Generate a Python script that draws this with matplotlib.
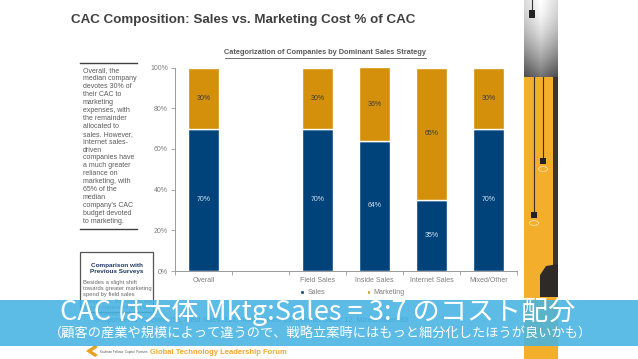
import matplotlib
matplotlib.use("Agg")
import matplotlib.pyplot as plt
import numpy as np
from matplotlib.patches import Rectangle, Circle, Polygon
from matplotlib.lines import Line2D

# ---------------- data ----------------
categories = ["Overall", "", "Field Sales", "Inside Sales", "Internet Sales", "Mixed/Other"]
sales = [70, 0, 70, 64, 35, 70]
marketing = [30, 0, 30, 36, 65, 30]
y_ticks = [0, 20, 40, 60, 80, 100]
y_tick_labels = ["0%", "20%", "40%", "60%", "80%", "100%"]
series_names = ["Sales", "Marketing"]

title = "CAC Composition: Sales vs. Marketing Cost % of CAC"
subtitle = "Categorization of Companies by Dominant Sales Strategy"
side_text = ("Overall, the\nmedian company\ndevotes 30% of\ntheir CAC to\nmarketing\nexpenses, with\n"
             "the remainder\nallocated to\nsales. However,\nInternet sales-\ndriven\ncompanies have\n"
             "a much greater\nreliance on\nmarketing, with\n65% of the\nmedian\ncompany's CAC\n"
             "budget devoted\nto marketing.")
box_title = "Comparison with\nPrevious Surveys"
box_text = ("Besides a slight shift\ntowards greater marketing\nspend by field sales\n"
            "companies, the results are\nlargely consistent with last\nyear's survey.")
respondents = "Respondents: Overall: 258, Field Sales: 100, Inside Sales: 63, Internet Sales: 12, Mixed/Other: 83"
banner1 = "CAC は大体 Mktg:Sales = 3:7 のコスト配分"
banner2 = "（顧客の産業や規模によって違うので、戦略立案時にはもっと細分化したほうが良いかも）"
logo_text = "Global Technology Leadership Forum"

NAVY = "#00427A"
GOLD = "#D4900A"
GRAY = "#7F7F7F"

W, H = 638, 359
fig = plt.figure(figsize=(W / 100, H / 100), dpi=100)
fig.patch.set_facecolor("white")

def fx(x):
    return x / W

def fy(y):
    return 1 - y / H

# ---------------- main chart ----------------
ax = fig.add_axes([fx(175), fy(271), fx(517) - fx(175), fy(67.5) - fy(271)])
x = np.arange(len(categories))
bw = 0.53
ax.bar(x, sales, bw, color=NAVY, edgecolor="white", linewidth=1.0, label=series_names[0], zorder=2)
ax.bar(x, marketing, bw, bottom=sales, color=GOLD, edgecolor="white", linewidth=1.0,
       label=series_names[1], zorder=2)
for xi, s, m in zip(x, sales, marketing):
    if s > 0:
        ax.text(xi, s / 2, f"{s}%", ha="center", va="center", fontsize=5,
                color="#D5E3F2", family="Liberation Sans")
    if m > 0:
        ax.text(xi, s + m / 2, f"{m}%", ha="center", va="center", fontsize=5,
                color="#3A3A3A", family="Liberation Sans")

ax.set_xlim(-0.5, len(categories) - 0.5)
ax.set_ylim(0, 100)
ax.set_yticks(y_ticks)
ax.set_yticklabels(y_tick_labels, fontsize=5, color=GRAY, family="Liberation Sans")
ax.set_xticks(x)
ax.set_xticklabels(categories, fontsize=5, color=GRAY, family="Liberation Sans")
ax.set_xticks(np.arange(-0.5, len(categories)), minor=True)
ax.tick_params(axis="x", which="major", length=0, pad=4)
ax.tick_params(axis="x", which="minor", length=3, color="#999999", width=0.6)
ax.tick_params(axis="y", length=3, color="#999999", width=0.6, pad=2)
for sp in ["top", "right"]:
    ax.spines[sp].set_visible(False)
for sp in ["left", "bottom"]:
    ax.spines[sp].set_color("#999999")
    ax.spines[sp].set_linewidth(0.7)

leg = ax.legend(loc="center left", bbox_to_anchor=(fx(294), fy(293)), bbox_transform=fig.transFigure,
                ncol=2, frameon=False, handlelength=0.5, handleheight=0.5,
                handletextpad=0.5, columnspacing=6.0, prop={"family": "Liberation Sans", "size": 5})
for t in leg.get_texts():
    t.set_color(GRAY)

# ---------------- titles ----------------
fig.text(fx(243), fy(20), title, ha="center", va="center", fontsize=9.6, fontweight="bold",
         color="#404040", family="Liberation Sans")
fig.text(fx(426), fy(53), subtitle, ha="right", va="center", fontsize=5.3, fontweight="bold",
         color="#595959", family="Liberation Sans")
fig.add_artist(Line2D([fx(225), fx(426)], [fy(57.5), fy(57.5)], color="#595959", lw=0.6))

# ---------------- left notes ----------------
fig.add_artist(Line2D([fx(80), fx(137)], [fy(63), fy(63)], color="#404040", lw=1.0))
fig.add_artist(Line2D([fx(80), fx(137)], [fy(229), fy(229)], color="#404040", lw=1.0))
fig.text(fx(83), fy(67), side_text, ha="left", va="top", fontsize=5.0, linespacing=1.19,
         color="#5A5A5A", family="Liberation Sans")

fig.add_artist(Rectangle((fx(80), fy(312)), fx(153) - fx(80), fy(252) - fy(312),
                         transform=fig.transFigure, facecolor="white", edgecolor="#555555", lw=0.9))
fig.text(fx(117), fy(268.5), box_title, ha="center", va="center", fontsize=4.6, fontweight="bold",
         color="#1F3864", linespacing=1.1, family="Liberation Sans")
fig.text(fx(83), fy(280), box_text, ha="left", va="top", fontsize=4.2, linespacing=1.3,
         color="#6A6A6A", family="Liberation Sans")

fig.text(fx(95), fy(321), respondents, ha="left", va="center", fontsize=5.2,
         color="#4A6F95", family="Liberation Sans")

# ---------------- right decorative strip ----------------
grad_ax = fig.add_axes([fx(524), fy(77), fx(558) - fx(524), fy(0) - fy(77)])
g = np.linspace(0, 1, 80)
xx = np.linspace(-1, 1, 40)
img = np.clip(1.0 - 0.55 * (g[:, None] ** 1.6) - 0.15 * np.abs(xx[None, :]), 0, 1)
grad_ax.imshow(img, cmap="gray", vmin=0, vmax=1, aspect="auto", extent=[0, 1, 1, 0])
grad_ax.axis("off")

fig.add_artist(Rectangle((fx(524), fy(359)), fx(558) - fx(524), fy(77) - fy(359),
                         transform=fig.transFigure, facecolor="#F3AE2C", edgecolor="none", zorder=1))
fig.add_artist(Rectangle((fx(553), fy(265)), fx(558) - fx(553), fy(77) - fy(265),
                         transform=fig.transFigure, facecolor="#3C3530", edgecolor="none", zorder=1.1))
fig.add_artist(Polygon([(fx(540), fy(297)), (fx(540), fy(275)), (fx(546), fy(266)),
                        (fx(558), fy(264)), (fx(558), fy(297))],
                       closed=True, transform=fig.transFigure, facecolor="#2E2A27",
                       edgecolor="none", zorder=1.1))
for cx, top, bot in [(534, 77, 212), (543, 77, 158)]:
    fig.add_artist(Line2D([fx(cx), fx(cx)], [fy(top), fy(bot)], color="#3A2F24", lw=0.8, zorder=1.2))
    fig.add_artist(Rectangle((fx(cx - 3), fy(bot + 6)), fx(6), fy(0) - fy(6),
                             transform=fig.transFigure, facecolor="#222222", edgecolor="none", zorder=1.2))
    fig.add_artist(Circle((fx(cx), fy(bot + 11)), 0.007, transform=fig.transFigure,
                          facecolor="none", edgecolor="#FBE3A8", lw=0.6, zorder=1.2))
fig.add_artist(Line2D([fx(532), fx(532)], [fy(0), fy(10)], color="#333333", lw=0.8, zorder=3))
fig.add_artist(Rectangle((fx(529), fy(18)), fx(6), fy(0) - fy(8),
                         transform=fig.transFigure, facecolor="#222222", edgecolor="none", zorder=3))

# ---------------- banner ----------------
fig.add_artist(Rectangle((0, fy(346)), 1, fy(300) - fy(346), transform=fig.transFigure,
                         facecolor="#45B3E2", edgecolor="none", alpha=0.88, zorder=5))
fig.text(fx(318), fy(312), banner1, ha="center", va="center", fontsize=19.5, color="white",
         family=["Noto Sans CJK JP", "DejaVu Sans"], zorder=6)
fig.text(fx(320), fy(334.5), banner2, ha="center", va="center", fontsize=9.5, color="white",
         family=["Noto Sans CJK JP", "DejaVu Sans"], zorder=6)

# ---------------- footer logo ----------------
fig.add_artist(Polygon([(fx(95), fy(345)), (fx(86), fy(351)), (fx(95), fy(357)), (fx(98), fy(355)),
                        (fx(92), fy(351)), (fx(98), fy(347))], closed=True, transform=fig.transFigure,
                       facecolor="#E8A020", edgecolor="none", zorder=4))
fig.text(fx(100), fy(352), "Kaufman Fellows  Capital  Partners", ha="left", va="center", fontsize=2.2,
         color="#555555", family="Liberation Sans", zorder=4)
fig.text(fx(150), fy(352), logo_text, ha="left", va="center", fontsize=5.5, fontweight="bold",
         color="#F0A830", family="Liberation Sans", zorder=4)

fig.savefig("out.png", dpi=100, facecolor="white")
